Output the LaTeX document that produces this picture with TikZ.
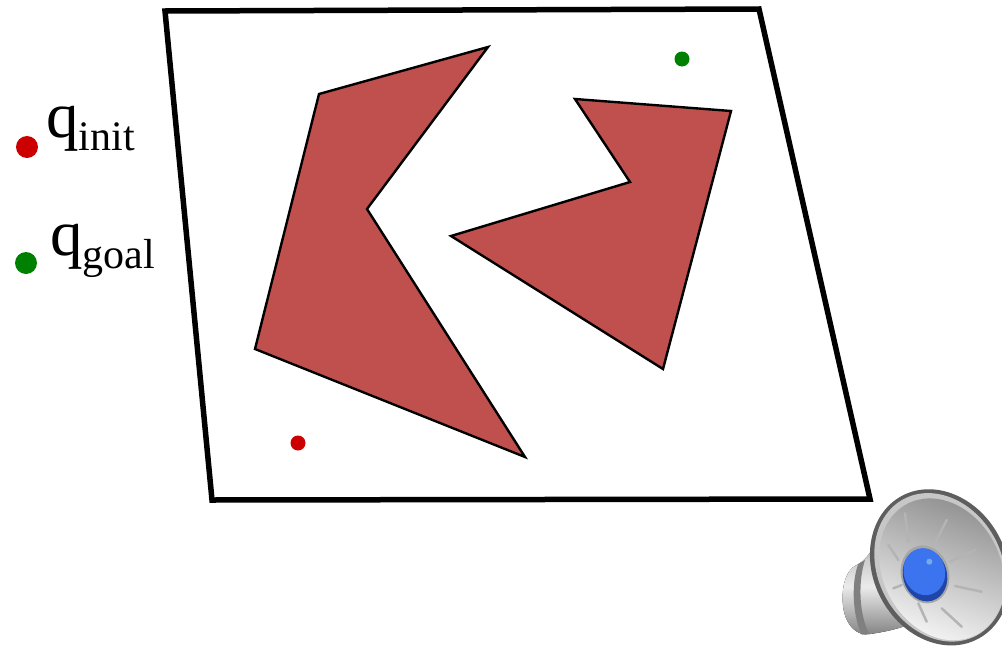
\documentclass[tikz,border=0pt]{standalone}
\usepackage{fontspec}
\setmainfont{Liberation Serif}
\usepackage{xcolor}
\definecolor{obstaclered}{HTML}{C0504D}
\definecolor{initred}{HTML}{CC0000}
\definecolor{goalgreen}{HTML}{008000}
\definecolor{conedark}{HTML}{5E5E5E}
\definecolor{spokegray}{HTML}{B4B4B4}
\definecolor{domeblue}{HTML}{3C74F0}
\definecolor{domedark}{HTML}{1F45A8}
\newcommand{\qlabel}[1]{{\fontsize{65}{65}\selectfont q}\raisebox{-13pt}{\fontsize{42}{42}\selectfont #1}}

\begin{document}
\begin{tikzpicture}[
    x=1pt, y=-1pt,
    world/.style={draw, line width=5.5pt, line join=miter},
    obstacle/.style={draw, fill=obstaclered, line width=2.4pt, line join=miter},
    config/.style={circle, inner sep=0pt, minimum size=#1},
    legend/.style={anchor=base west, inner sep=0pt}
]
\clip (0,0) rectangle (1002,648);
% workspace
\draw[world] (165,11) -- (759,9) -- (870,499) -- (212,500) -- cycle;
% obstacles
\draw[obstacle] (319,94) -- (488,47) -- (367,209) -- (525,457) -- (255,349) -- cycle;
\draw[obstacle] (575,99) -- (731,111) -- (663,369) -- (451,236) -- (630,182) -- cycle;
% configurations
\node[config=15pt, fill=goalgreen] (goal) at (682,59) {};
\node[config=15pt, fill=initred] (init) at (298,443) {};
% legend
\node[config=22pt, fill=initred] (initdot) at (27,147) {};
\node[config=22pt, fill=goalgreen] (goaldot) at (26,263) {};
\node[legend] (initlabel) at (46,137) {\qlabel{init}};
\node[legend] (goallabel) at (50,255) {\qlabel{goal}};
% speaker icon
\begin{scope}[shift={(830,480)}, scale=1/3]
\fill[top color=black!30, bottom color=black!50, middle color=white!92!black]
    (150,170) .. controls (120,225) and (100,245) .. (80,255)
    .. controls (45,270) and (32,330) .. (40,385)
    .. controls (48,435) and (80,470) .. (120,462)
    .. controls (150,458) and (190,450) .. (220,440) -- cycle;
\fill[black!50] (85,252) .. controls (65,300) and (65,400) .. (95,464)
    -- (118,462) .. controls (85,400) and (85,300) .. (105,240) -- cycle;
\fill[conedark, rotate around={28:(330,262)}] (330,262) ellipse (200 and 243);
\fill[black!22, rotate around={28:(330,262)}] (330,262) ellipse (186 and 232);
\shade[top color=black!42, bottom color=white!95!black, shading angle=-20, rotate around={28:(335,268)}]
    (335,268) ellipse (176 and 222);
\foreach \xa/\ya/\xb/\yb in {225/100/235/185, 350/120/315/190, 435/210/360/245, 455/335/375/318,
    395/440/335/385, 290/425/265/370, 175/195/205/240, 190/325/215/315}
    \draw[spokegray, line width=2.5pt, line cap=round] (\xa,\ya) -- (\xb,\yb);
\fill[black!35, rotate around={15:(285,283)}] (285,283) ellipse (72 and 88);
\fill[domedark, rotate around={15:(285,285)}] (285,285) ellipse (66 and 80);
\fill[domeblue, rotate around={15:(283,275)}] (283,275) ellipse (62 and 71);
\fill[white!55!cyan!80!blue] (298,245) circle (9);
\end{scope}
\end{tikzpicture}
\end{document}
